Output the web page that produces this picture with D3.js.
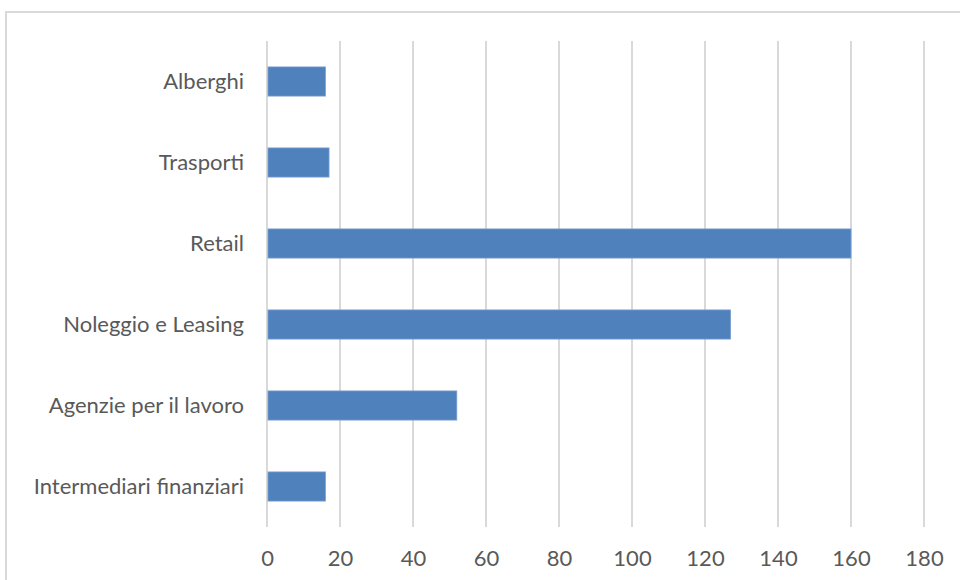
<!DOCTYPE html>
<html><head><meta charset="utf-8">
<script src="https://cdn.jsdelivr.net/npm/d3@7"></script>
<style>html,body{margin:0;padding:0;background:#fff;}svg{display:block;}</style>
</head><body>
<svg id="chart" width="960" height="580"></svg>
<script>
const categories = ["Alberghi","Trasporti","Retail","Noleggio e Leasing","Agenzie per il lavoro","Intermediari finanziari"];
const values = [16, 17, 160, 127, 52, 16];
const ticks = [0,20,40,60,80,100,120,140,160,180];

const svg = d3.select("#chart");
const font = "Lato, 'Open Sans', sans-serif";
svg.append("rect").attr("x",6).attr("y",12).attr("width",980).attr("height",600)
  .attr("fill","none").attr("stroke","#d9d9d9").attr("stroke-width",2);

const x = d3.scaleLinear().domain([0,180]).range([267,924]);
const y = d3.scaleBand().domain(categories).range([41,527]).paddingInner(0.64).paddingOuter(0.32);

svg.append("g").selectAll("line").data(ticks).join("line")
  .attr("x1",d=>x(d)).attr("x2",d=>x(d)).attr("y1",41).attr("y2",527)
  .attr("stroke","#d9d9d9").attr("stroke-width",2);

svg.append("g").selectAll("rect").data(values).join("rect")
  .attr("x",x(0)+1).attr("y",(d,i)=>y(categories[i]))
  .attr("width",d=>x(d)-x(0)-1).attr("height",y.bandwidth())
  .attr("fill","#4f81bd").attr("stroke","#7a9fd0").attr("stroke-width",0.8);

const yAxis = d3.axisLeft(y).tickSize(0).tickPadding(0);
const ga = svg.append("g").attr("transform","translate(244,0)").call(yAxis);
ga.select(".domain").remove();
ga.selectAll("text").attr("fill","#595959").style("font-family",font).style("font-size","22px");

const xAxis = d3.axisBottom(x).tickValues(ticks).tickSize(0).tickPadding(0);
const gx = svg.append("g").attr("transform","translate(0,550)").call(xAxis);
gx.select(".domain").remove();
gx.selectAll("text").attr("fill","#595959").style("font-family",font).style("font-size","22px");
</script>
</body></html>
